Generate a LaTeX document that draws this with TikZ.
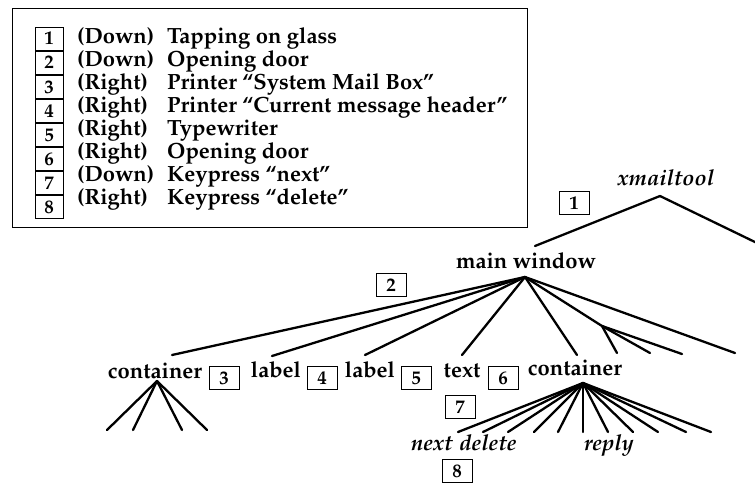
\documentclass[tikz,border=0pt]{standalone}
\usepackage[T1]{fontenc}
\usepackage{mathpazo}
\usetikzlibrary{positioning}
\tikzset{
    auto, node distance = 0pt and 14pt,% the boxes of the key sit right on one another
}

\begin{document}
\begin{tikzpicture}[x=1pt, y=-1pt
        ,every node/.style={font=\fontsize{22}{23}\selectfont\bfseries}
        ,numbox/.style={draw, line width=1pt, minimum width=28pt, minimum height=23.1pt, inner sep=0pt, font=\fontsize{19}{19}\selectfont\bfseries}
        ,treebox/.style={numbox, minimum width=30pt, minimum height=23pt}
        ,keytext/.style={anchor=base west, inner sep=0pt}
        ,tree/.style={anchor=base, inner sep=0pt}
        ,leaf/.style={tree, font=\fontsize{22}{23}\selectfont\bfseries\itshape}
        ,branch/.style={line width=2.3pt, line cap=round}]
            \useasboundingbox (0,0) rectangle (755,483);
            % the key
            \draw[line width=1pt] (12,8) rectangle (527,227);
            \node[numbox] (k1) at (49,38.6) {1};
            \node[numbox] (k2) [below =of k1] {2};
            \node[numbox] (k3) [below =of k2] {3};
            \node[numbox] (k4) [below =of k3] {4};
            \node[numbox] (k5) [below =of k4] {5};
            \node[numbox] (k6) [below =of k5] {6};
            \node[numbox] (k7) [below =of k6] {7};
            \node[numbox] (k8) [below =of k7] {8};
            \node[keytext] (dir1) at (77,43) {(Down)};
            \node[keytext] (dir2) at (77,66.1) {(Down)};
            \node[keytext] (dir3) at (77,89.2) {(Right)};
            \node[keytext] (dir4) at (77,112.3) {(Right)};
            \node[keytext] (dir5) at (77,135.4) {(Right)};
            \node[keytext] (dir6) at (77,158.5) {(Right)};
            \node[keytext] (dir7) at (77,181.6) {(Down)};
            \node[keytext] (dir8) at (77,204.7) {(Right)};
            \node[keytext] (snd1) at (167,43) {Tapping on glass};
            \node[keytext] (snd2) at (167,66.1) {Opening door};
            \node[keytext] (snd3) at (167,89.2) {Printer ``System Mail Box''};
            \node[keytext] (snd4) at (167,112.3) {Printer ``Current message header''};
            \node[keytext] (snd5) at (167,135.4) {Typewriter};
            \node[keytext] (snd6) at (167,158.5) {Opening door};
            \node[keytext] (snd7) at (167,181.6) {Keypress ``next''};
            \node[keytext] (snd8) at (167,204.7) {Keypress ``delete''};
            % the widget tree
            \node[leaf] (xmt) at (666,185) {xmailtool};
            \node[tree] (mw) at (526,268) {main window};
            \node[tree] (cont1) at (155,378) {container};
            \node[tree] (lab1) at (276,377) {label};
            \node[tree] (lab2) at (370,377) {label};
            \node[tree] (txt) at (462,377) {text};
            \node[tree] (cont2) at (575,375) {container};
            \node[leaf] (next) at (432,450) {next};
            \node[leaf] (del) at (488,450) {delete};
            \node[leaf] (reply) at (609,450) {reply};
            \node[treebox] (b1) at (574,203) {1};
            \node[treebox] (b2) at (391,285) {2};
            \node[treebox] (b3) at (224,378) {3};
            \node[treebox] (b4) at (322,378) {4};
            \node[treebox] (b5) at (416,378) {5};
            \node[treebox] (b6) at (503,378) {6};
            \node[treebox] (b7) at (460,407) {7};
            \node[treebox] (b8) at (457,471) {8};
            \coordinate (xmt-a) at (660,196);
            \coordinate (xmt-r) at (757,243);
            \coordinate (mw-t) at (535,246);
            \coordinate (mw-a) at (525,277);
            \coordinate (cont1-t) at (172,355);
            \coordinate (lab1-t) at (272,356);
            \coordinate (lab2-t) at (365,355);
            \coordinate (txt-t) at (462,355);
            \coordinate (cont2-t) at (577,355);
            \coordinate (fork) at (602,326);
            \coordinate (fork-1) at (617,353);
            \coordinate (fork-2) at (650,353);
            \coordinate (fork-3) at (682,354);
            \coordinate (mw-r) at (735,353);
            \coordinate (cont1-a) at (157,381);
            \coordinate (c1-1) at (107,430); \coordinate (c1-2) at (133,430);
            \coordinate (c1-3) at (182,430); \coordinate (c1-4) at (207,430);
            \coordinate (cont2-a) at (583,383);
            \coordinate (c2-1) at (458,432); \coordinate (c2-2) at (483,432);
            \coordinate (c2-3) at (508,432); \coordinate (c2-4) at (534,432);
            \coordinate (c2-5) at (558,432); \coordinate (c2-6) at (583,432);
            \coordinate (c2-7) at (608,432); \coordinate (c2-8) at (633,432);
            \coordinate (c2-9) at (658,432); \coordinate (c2-10) at (686,432);
            \coordinate (c2-11) at (711,432);
            \path[branch] (xmt-a) edge (mw-t) edge (xmt-r);
            \path[branch] (mw-a) edge (cont1-t) edge (lab1-t) edge (lab2-t) edge (txt-t)
                edge (cont2-t) edge (fork) edge (mw-r);
            \path[branch] (fork) edge (fork-1) edge (fork-2) edge (fork-3);
            \path[branch] (cont1-a) edge (c1-1) edge (c1-2) edge (c1-3) edge (c1-4);
            \path[branch] (cont2-a) edge (c2-1) edge (c2-2) edge (c2-3) edge (c2-4)
                edge (c2-5) edge (c2-6) edge (c2-7) edge (c2-8) edge (c2-9) edge (c2-10) edge (c2-11);
        \end{tikzpicture}
\end{document}
